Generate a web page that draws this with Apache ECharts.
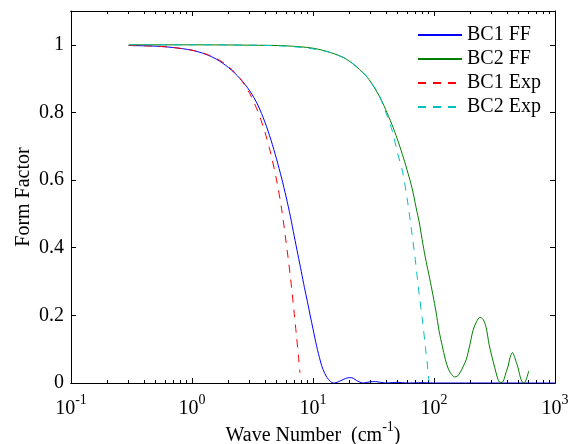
<!DOCTYPE html>
<html><head><meta charset="utf-8">
<script src="https://cdn.jsdelivr.net/npm/echarts@6/dist/echarts.min.js"></script>
<style>html,body{margin:0;padding:0;background:#fff}#c{width:572px;height:444px}</style>
</head><body><div id="c"></div>
<script>
// ---- data ----
const seriesNames = ['BC1 FF', 'BC2 FF', 'BC1 Exp', 'BC2 Exp'];

const bc1FFx = [0.3, 0.5, 0.7, 1.0, 1.3, 1.6, 2.0, 2.5, 3.0, 3.5, 4.0, 4.5, 5.0, 5.5, 6.0, 6.5, 7.0, 7.5, 8.0, 8.5, 9.0, 9.5, 10, 10.7, 11.5, 12.1, 13, 14, 14.7, 15.5, 17, 18.5, 20, 21.5, 23, 25, 26, 28, 31, 33, 36, 40, 45, 50, 60, 80, 100, 150, 200, 300, 400, 600, 1000];
const bc1FFy = [0.998, 0.996, 0.992, 0.984, 0.972, 0.957, 0.933, 0.900, 0.864, 0.822, 0.772, 0.718, 0.662, 0.606, 0.550, 0.493, 0.434, 0.380, 0.330, 0.282, 0.240, 0.198, 0.160, 0.110, 0.065, 0.040, 0.017, 0.004, 0.0, 0.001, 0.007, 0.013, 0.016, 0.014, 0.007, 0.001, 0.0, 0.002, 0.004, 0.004, 0.002, 0.0, 0.001, 0.002, 0.0, 0.001, 0.0, 0.0, 0.0, 0.0, 0.0, 0.0, 0.0];

const bc2FFx = [0.3, 1, 3, 6, 10, 14, 19, 26, 30, 36, 41, 46, 51, 56, 61, 66, 71, 76, 81, 86, 92, 98, 104, 110, 117, 124, 132, 140, 148, 156, 165, 175, 185, 197, 210, 225, 240, 255, 270, 285, 300, 318, 335, 350, 365, 380, 395, 410, 425, 445, 465, 480, 495, 510, 525, 540, 555, 570, 590, 607];
const bc2FFy = [1.0, 1.0, 0.999, 0.997, 0.99, 0.977, 0.957, 0.917, 0.89, 0.843, 0.798, 0.755, 0.71, 0.665, 0.62, 0.575, 0.52, 0.47, 0.41, 0.36, 0.31, 0.26, 0.21, 0.155, 0.11, 0.07, 0.04, 0.025, 0.018, 0.02, 0.032, 0.05, 0.07, 0.11, 0.155, 0.182, 0.194, 0.188, 0.163, 0.115, 0.08, 0.045, 0.015, 0.002, 0.002, 0.012, 0.033, 0.05, 0.075, 0.09, 0.075, 0.06, 0.045, 0.025, 0.01, 0.002, 0.0, 0.005, 0.02, 0.036];

const bc1Expx = [0.3, 0.5, 0.7, 1.0, 1.3, 1.6, 2.0, 2.5, 3.0, 3.5, 4.0, 4.5, 5.0, 5.5, 6.0, 6.5, 7.0, 7.3, 7.6, 7.8];
const bc1Expy = [0.998, 0.996, 0.992, 0.984, 0.973, 0.959, 0.936, 0.900, 0.856, 0.803, 0.743, 0.675, 0.600, 0.515, 0.415, 0.315, 0.205, 0.140, 0.075, 0.03];

const bc2Expx = [0.3, 1, 3, 6, 10, 14, 19, 26, 30, 35, 40, 45, 50, 55, 60, 65, 70, 75, 80, 85, 89, 91];
const bc2Expy = [1.0, 1.0, 0.999, 0.996, 0.988, 0.977, 0.957, 0.918, 0.89, 0.853, 0.800, 0.748, 0.680, 0.625, 0.545, 0.455, 0.365, 0.270, 0.190, 0.105, 0.04, 0.005];

const yTicks = [0, 0.2, 0.4, 0.6, 0.8, 1];
const yTickLabels = ['0', '0.2', '0.4', '0.6', '0.8', '1'];
const xMajorTicks = [0.1, 1, 10, 100, 1000];
const xMinorTicks = [0.2, 0.3, 0.4, 0.5, 0.6, 0.7, 0.8, 0.9, 2, 3, 4, 5, 6, 7, 8, 9, 20, 30, 40, 50, 60, 70, 80, 90, 200, 300, 400, 500, 600, 700, 800, 900];

// ---- chart ----
const FONT = "'Liberation Serif', 'DejaVu Serif', serif";
const pair = (xs, ys) => xs.map((x, i) => [x, ys[i]]);
const rich = {
  b: { fontFamily: FONT, fontSize: 20, color: '#000', lineHeight: 26, verticalAlign: 'bottom' },
  sup: { fontFamily: FONT, fontSize: 14, color: '#000', lineHeight: 6, verticalAlign: 'top' }
};
const lineAx = { show: true, onZero: false, lineStyle: { color: '#000', width: 1 } };

function xAxisDef(pos, labels, ticks, len) {
  return {
    type: 'log', logBase: 10, min: 0.1, max: 1000, position: pos,
    axisLine: lineAx, splitLine: { show: false },
    axisTick: { show: true, inside: true, length: len, customValues: ticks, lineStyle: { color: '#000', width: 1 } },
    axisLabel: labels ? {
      show: true, margin: 10, customValues: xMajorTicks,
      formatter: v => '{b|10}{sup|' + Math.round(Math.log10(v)) + '}', rich: rich
    } : { show: false }
  };
}
function yLabel(v) {
  for (let i = 0; i < yTicks.length; i++) {
    if (Math.abs(v - yTicks[i]) < 1e-6) return yTickLabels[i];
  }
  return '';
}
function yAxisDef(pos, labels) {
  return {
    type: 'value', min: 0, max: 1.1, interval: 0.2, position: pos,
    axisLine: lineAx, splitLine: { show: false },
    axisTick: { show: true, inside: true, length: 5, customValues: yTicks, lineStyle: { color: '#000', width: 1 } },
    axisLabel: labels ? {
      show: true, margin: 7, align: 'right', alignMaxLabel: 'right', alignMinLabel: 'right',
      customValues: yTicks, color: '#000', fontFamily: FONT, fontSize: 20,
      formatter: yLabel
    } : { show: false }
  };
}

const xAxes = [
  xAxisDef('bottom', true, xMajorTicks, 5),
  xAxisDef('bottom', false, xMinorTicks, 3),
  xAxisDef('top', false, xMajorTicks, 5),
  xAxisDef('top', false, xMinorTicks, 3)
];
xAxes[0].name = '{b|Wave Number  (cm}{sup|-1}{b|)}';
xAxes[0].nameLocation = 'middle';
xAxes[0].nameGap = 37;
xAxes[0].nameMoveOverlap = false;
xAxes[0].nameTextStyle = { rich: rich };

const yAxes = [yAxisDef('left', true), yAxisDef('right', false)];
yAxes[0].name = 'Form Factor';
yAxes[0].nameLocation = 'middle';
yAxes[0].nameGap = 37;
yAxes[0].nameMoveOverlap = false;
yAxes[0].nameTextStyle = { fontFamily: FONT, fontSize: 20, color: '#000' };

function mk(name, data, color, dashed) {
  return {
    name: name, type: 'line', data: data, symbol: 'none', smooth: 0.3,
    xAxisIndex: 0, yAxisIndex: 0,
    lineStyle: { color: color, width: 1, type: dashed ? [8, 7] : 'solid' },
    itemStyle: { color: color }
  };
}

const chart = echarts.init(document.getElementById('c'), null, { renderer: 'canvas' });
chart.setOption({
  animation: false,
  backgroundColor: '#fff',
  grid: { left: 71, right: 17, top: 11, bottom: 61, containLabel: false, outerBoundsMode: 'none' },
  xAxis: xAxes,
  yAxis: yAxes,
  legend: {
    orient: 'vertical', left: 417, top: 25, padding: 0,
    itemWidth: 44, itemHeight: 14, itemGap: 4,
    itemStyle: { opacity: 0, color: 'rgba(0,0,0,0)', borderWidth: 0 },
    textStyle: { fontFamily: FONT, fontSize: 20, color: '#000', lineHeight: 20 },
    data: seriesNames
  },
  series: [
    mk(seriesNames[0], pair(bc1FFx, bc1FFy), '#0000ff', false),
    mk(seriesNames[1], pair(bc2FFx, bc2FFy), '#008000', false),
    mk(seriesNames[2], pair(bc1Expx, bc1Expy), '#ff0000', true),
    mk(seriesNames[3], pair(bc2Expx, bc2Expy), '#00bfbf', true)
  ]
});
</script></body></html>
